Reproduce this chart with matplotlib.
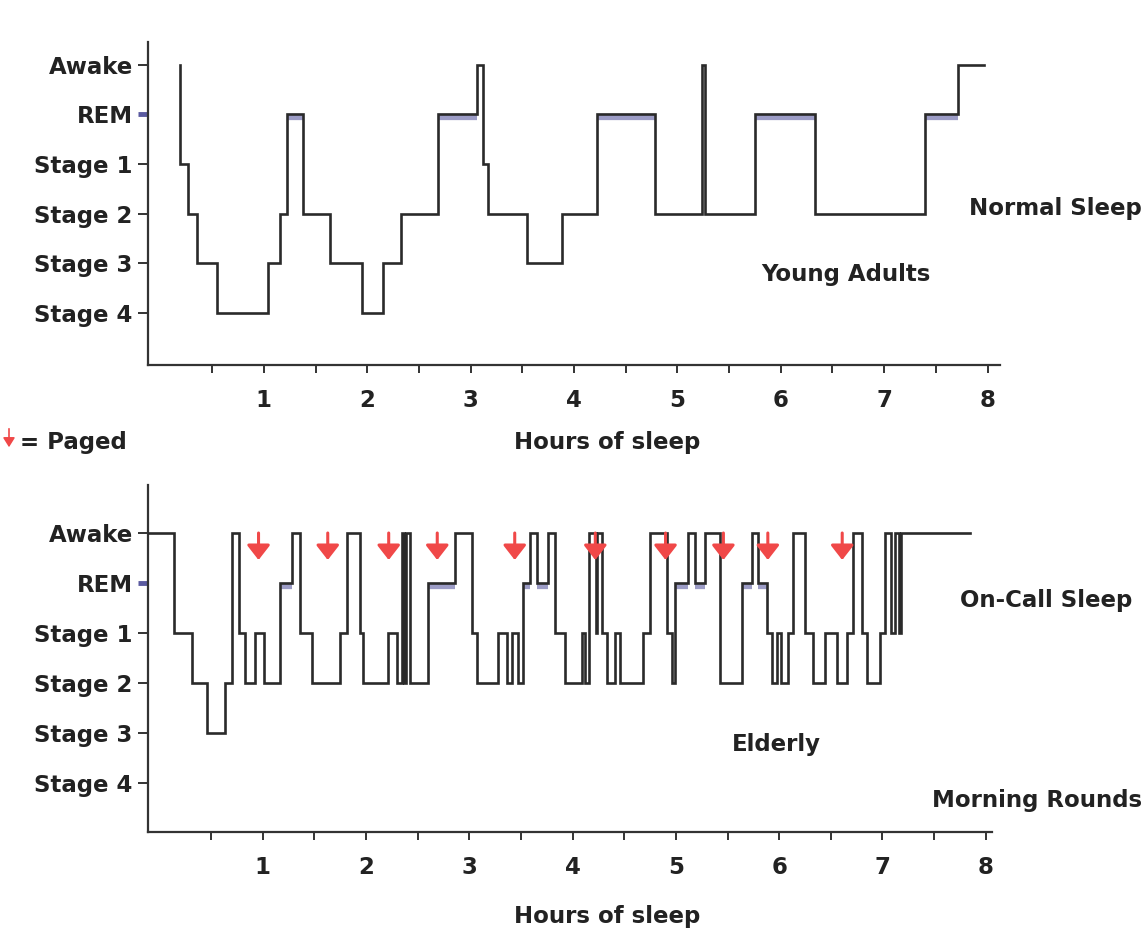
import numpy as np
import matplotlib
matplotlib.use("Agg")
import matplotlib.pyplot as plt
from matplotlib.transforms import offset_copy

# ---------------- data ----------------
stage_names = ["Stage 4", "Stage 3", "Stage 2", "Stage 1", "REM", "Awake"]
hour_ticks = [1, 2, 3, 4, 5, 6, 7, 8]

# Young adults (normal sleep): onset time (h) of each stage epoch
young_onsets = [0.19, 0.19, 0.27, 0.35, 0.55, 1.04, 1.16, 1.22, 1.38, 1.64,
                1.95, 2.15, 2.33, 2.68, 3.06, 3.12, 3.17, 3.55, 3.88, 4.22,
                4.78, 5.24, 5.27, 5.75, 6.33, 7.39, 7.71]
young_stages = ["Awake", "Stage 1", "Stage 2", "Stage 3", "Stage 4", "Stage 3",
                "Stage 2", "REM", "Stage 2", "Stage 3", "Stage 4", "Stage 3",
                "Stage 2", "REM", "Awake", "Stage 1", "Stage 2", "Stage 3",
                "Stage 2", "REM", "Stage 2", "Awake", "Stage 2", "REM",
                "Stage 2", "REM", "Awake"]
young_end = 7.97

# Elderly / on-call sleep
old_onsets = [-0.1, 0.138, 0.317, 0.462, 0.639, 0.704, 0.768, 0.833, 0.929, 1.010,
              1.171, 1.285, 1.365, 1.478, 1.752, 1.817, 1.946, 1.975, 2.217, 2.304,
              2.352, 2.372, 2.391, 2.430, 2.604, 2.865, 3.030, 3.078, 3.282, 3.369,
              3.417, 3.475, 3.524, 3.591, 3.659, 3.766, 3.834, 3.930, 4.095, 4.124,
              4.160, 4.230, 4.240, 4.288, 4.337, 4.414, 4.463, 4.685, 4.753, 4.918,
              4.966, 4.995, 5.121, 5.189, 5.286, 5.431, 5.644, 5.741, 5.799, 5.886,
              5.934, 5.983, 6.021, 6.089, 6.138, 6.254, 6.331, 6.447, 6.563, 6.660,
              6.718, 6.805, 6.854, 6.979, 7.028, 7.086, 7.125, 7.164, 7.183]
old_stages = ["Awake", "Stage 1", "Stage 2", "Stage 3", "Stage 2", "Awake", "Stage 1",
              "Stage 2", "Stage 1", "Stage 2",
              "REM", "Awake", "Stage 1", "Stage 2", "Stage 1", "Awake", "Stage 1",
              "Stage 2", "Stage 1", "Stage 2",
              "Awake", "Stage 2", "Awake", "Stage 2", "REM", "Awake", "Stage 1",
              "Stage 2", "Stage 1", "Stage 2",
              "Stage 1", "Stage 2", "REM", "Awake", "REM", "Awake", "Stage 1",
              "Stage 2", "Stage 1", "Stage 2",
              "Awake", "Stage 1", "Awake", "Stage 1", "Stage 2", "Stage 1", "Stage 2",
              "Stage 1", "Awake", "Stage 1",
              "Stage 2", "REM", "Awake", "REM", "Awake", "Stage 2", "REM", "Awake",
              "REM", "Stage 1",
              "Stage 2", "Stage 1", "Stage 2", "Stage 1", "Awake", "Stage 1",
              "Stage 2", "Stage 1", "Stage 2", "Stage 1",
              "Awake", "Stage 1", "Stage 2", "Stage 1", "Awake", "Stage 1", "Awake",
              "Stage 1", "Awake"]
old_end = 7.85

paged_times = [0.96, 1.63, 2.22, 2.69, 3.44, 4.22, 4.90, 5.46, 5.89, 6.61]

# ---------------- style ----------------
LINE = "#2a2a2a"
AXC = "#333333"
REMC = "#5a5aa0"
RED = "#f04848"
TXT = "#222222"
FS = 16.5

W, H = 1145, 934
fig = plt.figure(figsize=(W / 100, H / 100), dpi=100)
lvl = {n: i for i, n in enumerate(stage_names)}


def fx(px):
    return px / W


def fy(py):
    return 1 - py / H


def make_axes(left, bottom, right, top):
    return fig.add_axes([fx(left), fy(bottom), fx(right) - fx(left), fy(top) - fy(bottom)])


def draw(ax, onsets, stages, end, xlim, ylim):
    xs = list(onsets) + [end]
    ys = [lvl[s] for s in stages]
    ys.append(ys[-1])
    off = offset_copy(ax.transData, fig=fig, x=0, y=-3, units="dots")
    for i, s in enumerate(stages):
        if s == "REM":
            ax.plot([xs[i], xs[i + 1]], [lvl["REM"]] * 2, color=REMC, lw=4.5,
                    alpha=0.6, solid_capstyle="butt", transform=off, zorder=2)
    ax.plot(xs, ys, drawstyle="steps-post", color=LINE, lw=1.9, zorder=3,
            solid_joinstyle="miter")
    ax.set_xlim(*xlim)
    ax.set_ylim(*ylim)
    for sp in ["top", "right"]:
        ax.spines[sp].set_visible(False)
    for sp in ["left", "bottom"]:
        ax.spines[sp].set_color(AXC)
        ax.spines[sp].set_linewidth(1.6)
    ax.set_yticks(range(len(stage_names)))
    ax.set_yticklabels(stage_names, fontsize=FS, fontweight="bold", color=TXT)
    ticks = np.arange(0.5, 8.01, 0.5)
    ax.set_xticks(ticks)
    ax.set_xticklabels([str(int(t)) if t in hour_ticks else "" for t in ticks],
                       fontsize=FS, fontweight="bold", color=TXT)
    ax.tick_params(axis="y", length=7, width=1.4, color=AXC, pad=4)
    ax.tick_params(axis="x", length=6, width=1.4, color=AXC, pad=11)
    rt = ax.yaxis.get_major_ticks()[lvl["REM"]]
    rt.tick1line.set_markeredgecolor(REMC)
    rt.tick1line.set_markeredgewidth(3.5)
    ax.patch.set_alpha(0)


ax1 = make_axes(148, 365, 1000, 42)
draw(ax1, young_onsets, young_stages, young_end, (-0.12, 8.12), (-1.05, 5.46))

ax2 = make_axes(148, 832, 992, 485)
draw(ax2, old_onsets, old_stages, old_end, (-0.11, 8.06), (-0.98, 5.96))

for t in paged_times:
    ax2.annotate("", xy=(t, 4.46), xytext=(t, 5.0),
                 arrowprops=dict(arrowstyle="-|>,head_width=0.35,head_length=0.45",
                                 color=RED, lw=2.2, mutation_scale=20,
                                 shrinkA=0, shrinkB=0), zorder=5)

# texts
kw = dict(fontsize=FS, fontweight="bold", color=TXT, va="center")
fig.text(fx(607), fy(443), "Hours of sleep", ha="center", **kw)
fig.text(fx(607), fy(917), "Hours of sleep", ha="center", **kw)
fig.text(fx(1142), fy(208), "Normal Sleep", ha="right", **kw)
fig.text(fx(846), fy(275), "Young Adults", ha="center", **kw)
fig.text(fx(1132), fy(600), "On-Call Sleep", ha="right", **kw)
fig.text(fx(776), fy(745), "Elderly", ha="center", **kw)
fig.text(fx(1142), fy(800), "Morning Rounds", ha="right", **kw)
fig.text(fx(20), fy(442), "= Paged", ha="left", **kw)
fig.add_artist(matplotlib.patches.FancyArrowPatch(
    (fx(9), fy(426)), (fx(9), fy(450)), transform=fig.transFigure,
    arrowstyle="-|>,head_width=0.25,head_length=0.4", mutation_scale=14,
    color=RED, lw=1.2))

fig.savefig("out.png", dpi=100, facecolor="white")
